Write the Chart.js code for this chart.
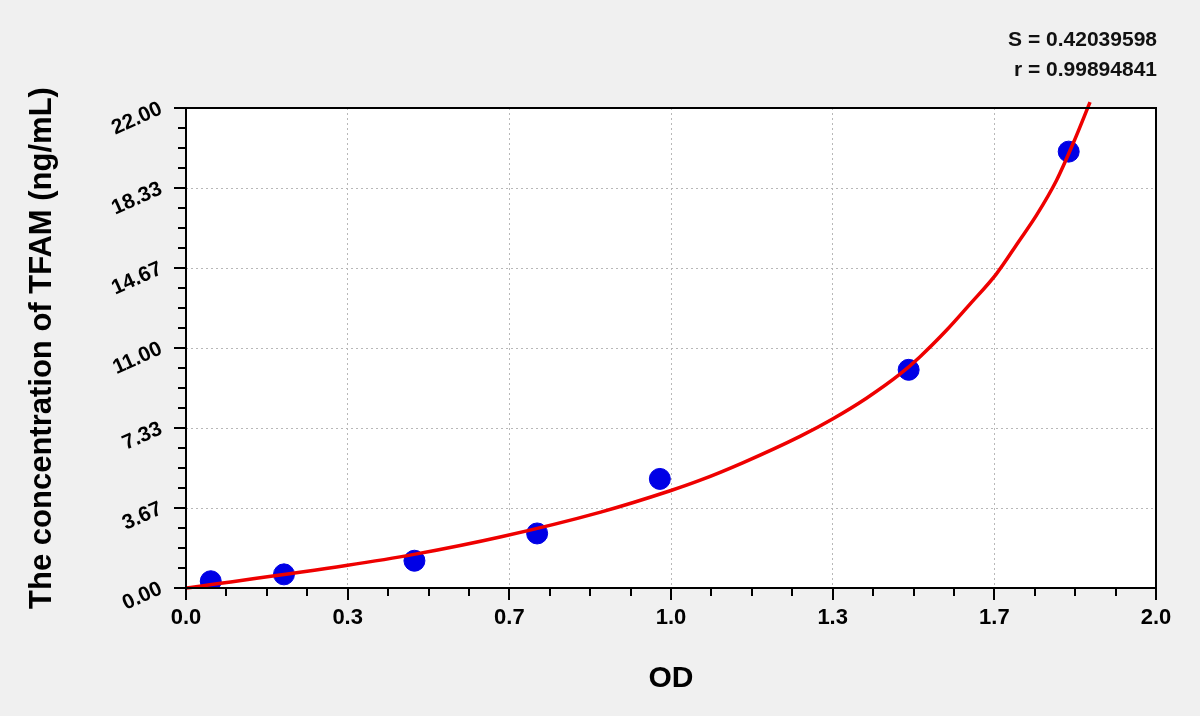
<!DOCTYPE html>
<html>
<head>
<meta charset="utf-8">
<script src="https://cdn.jsdelivr.net/npm/chart.js@4.4.0/dist/chart.umd.min.js"></script>
<style>
  html, body { margin: 0; padding: 0; background: #f0f0f0; }
  #wrap { width: 1200px; height: 716px; position: relative; }
</style>
</head>
<body>
<div id="wrap"><canvas id="chart"></canvas></div>
<script>
// standards (OD vs concentration)
const odValues = [0.051, 0.202, 0.471, 0.724, 0.977, 1.490, 1.820];
const concValues = [0.31, 0.625, 1.25, 2.5, 5, 10, 20];

// fitted curve
const curveX = [0, 0.33, 0.47, 0.65, 0.855, 1.0, 1.059, 1.149, 1.266, 1.334, 1.403, 1.472, 1.513, 1.568, 1.616, 1.671, 1.716, 1.754, 1.795, 1.829, 1.864];
const curveY = [0, 1.03, 1.54, 2.35, 3.48, 4.47, 4.93, 5.75, 6.95, 7.76, 8.7, 9.8, 10.59, 11.81, 13.0, 14.4, 15.85, 17.1, 18.69, 20.37, 22.27];

const xTickValues = [0, 1/3, 2/3, 1, 4/3, 5/3, 2];
const xTickLabels = ['0.0', '0.3', '0.7', '1.0', '1.3', '1.7', '2.0'];
const yTickValues = [0, 22/6, 44/6, 11, 88/6, 110/6, 22];
const yTickLabels = ['0.00', '3.67', '7.33', '11.00', '14.67', '18.33', '22.00'];

const fitStats = ['S = 0.42039598', 'r = 0.99894841'];

const FONT = 'Liberation Sans, Arial, sans-serif';

// white plot area, frame, major/minor tick marks, fit statistics
const framePlugin = {
    id: 'frame',
    beforeDraw(chart) {
        const { ctx, chartArea: a } = chart;
        ctx.save();
        ctx.fillStyle = '#ffffff';
        ctx.fillRect(a.left, a.top, a.right - a.left, a.bottom - a.top);
        ctx.restore();
    },
    afterDraw(chart) {
        const { ctx, chartArea: a, scales } = chart;
        ctx.save();
        ctx.strokeStyle = '#000';
        ctx.lineWidth = 2;
        ctx.strokeRect(a.left, a.top, a.right - a.left, a.bottom - a.top);

        ctx.beginPath();
        for (let i = 0; i <= 24; i++) {
            const px = Math.round(scales.x.getPixelForValue(i * 2 / 24));
            const len = i % 4 === 0 ? 12 : 8;
            ctx.moveTo(px, a.bottom);
            ctx.lineTo(px, a.bottom + len);
        }
        for (let i = 0; i <= 24; i++) {
            const py = Math.round(scales.y.getPixelForValue(i * 22 / 24));
            const len = i % 4 === 0 ? 12 : 8;
            ctx.moveTo(a.left, py);
            ctx.lineTo(a.left - len, py);
        }
        ctx.stroke();

        ctx.fillStyle = '#111';
        ctx.font = 'bold 21px ' + FONT;
        ctx.textAlign = 'right';
        ctx.textBaseline = 'middle';
        ctx.fillText(fitStats[0], 1157, 40);
        ctx.fillText(fitStats[1], 1157, 70);
        ctx.restore();
    }
};

const gridColor = (c) => {
    const v = c.tick ? c.tick.value : null;
    if (v === null) return 'rgba(0,0,0,0)';
    const s = c.scale;
    if (Math.abs(v - s.min) < 1e-6 || Math.abs(v - s.max) < 1e-6) return 'rgba(0,0,0,0)';
    return '#b8b8b8';
};

new Chart(document.getElementById('chart'), {
    type: 'scatter',
    data: {
        datasets: [
            {
                type: 'line',
                label: 'fit',
                data: curveX.map((x, i) => ({ x, y: curveY[i] })),
                borderColor: '#ee0000',
                borderWidth: 3.5,
                pointRadius: 0,
                fill: false,
                cubicInterpolationMode: 'monotone',
                clip: { left: 2, top: 8, right: 2, bottom: 2 }
            },
            {
                label: 'standards',
                data: odValues.map((x, i) => ({ x, y: concValues[i] })),
                backgroundColor: '#0000e6',
                borderColor: '#0000e6',
                pointRadius: 10.5,
                pointHoverRadius: 10.5
            }
        ]
    },
    options: {
        responsive: true,
        maintainAspectRatio: false,
        animation: false,
        layout: { padding: { left: 0, right: 44, top: 108, bottom: 0 } },
        plugins: {
            legend: { display: false },
            tooltip: { enabled: false }
        },
        scales: {
            x: {
                type: 'linear',
                min: 0,
                max: 2,
                afterBuildTicks: (s) => { s.ticks = xTickValues.map(v => ({ value: v })); },
                afterFit: (s) => { s.height = 128; },
                ticks: {
                    callback: (v, i) => xTickLabels[i],
                    color: '#000',
                    font: { family: FONT, size: 22, weight: 'bold' },
                    padding: 17,
                    maxRotation: 0,
                    autoSkip: false
                },
                grid: { color: gridColor, lineWidth: 1, drawTicks: false },
                border: { display: false, dash: [2, 3] },
                title: {
                    display: true,
                    text: 'OD',
                    color: '#000',
                    font: { family: FONT, size: 30, weight: 'bold' },
                    padding: { top: 0, bottom: 19 }
                }
            },
            y: {
                type: 'linear',
                min: 0,
                max: 22,
                afterBuildTicks: (s) => { s.ticks = yTickValues.map(v => ({ value: v })); },
                afterFit: (s) => { s.width = 186; },
                ticks: {
                    callback: (v, i) => yTickLabels[i],
                    color: '#000',
                    font: { family: FONT, size: 21, weight: 'bold' },
                    padding: 25,
                    minRotation: 24,
                    maxRotation: 24,
                    autoSkip: false
                },
                grid: { color: gridColor, lineWidth: 1, drawTicks: false },
                border: { display: false, dash: [2, 3] },
                title: {
                    display: true,
                    text: 'The concentration of TFAM (ng/mL)',
                    color: '#000',
                    font: { family: FONT, size: 31, weight: 'bold' },
                    padding: { top: 24, bottom: 0 }
                }
            }
        }
    },
    plugins: [framePlugin]
});
</script>
</body>
</html>
